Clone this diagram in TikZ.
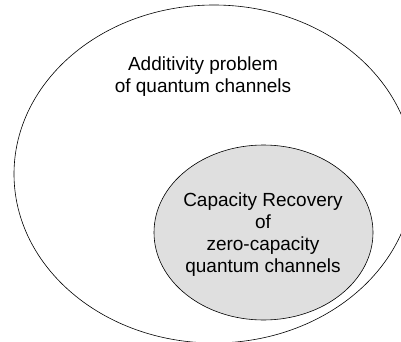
\documentclass[tikz,border=0pt]{standalone}
\usepackage{fontspec}
\setmainfont{Liberation Sans}
\usetikzlibrary{shapes.geometric}
\tikzset{
  setbound/.style={draw, ellipse, inner sep=0pt, line width=0.6pt},
  setlabel/.style={align=center, inner sep=0pt, font=\fontsize{19}{22}\selectfont}
}
\begin{document}
\begin{tikzpicture}[x=1pt,y=-1pt]
  \useasboundingbox (0,0) rectangle (401,342);
  \clip (0,0) rectangle (401,342);
  \node[setbound, minimum width=400pt, minimum height=338pt] (additivity) at (214,174) {};
  \node[setbound, fill=gray!25, minimum width=219pt, minimum height=175pt] (recovery) at (263.5,232.5) {};
  \node[setlabel] (additivitytext) at (203,77) {Additivity problem\\of quantum channels};
  \node[setlabel] (recoverytext) at (263,235) {Capacity Recovery\\of\\zero-capacity\\quantum channels};
\end{tikzpicture}
\end{document}
